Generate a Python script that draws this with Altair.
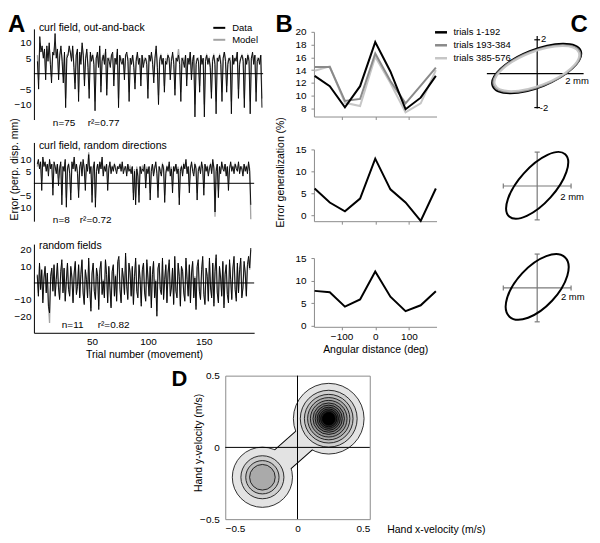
import altair as alt
import pandas as pd

FONT = "Liberation Sans"

# ---------------- Panel A : per-trial perpendicular error (mm) ----------------
a1_data = [
    4, -5, 12, 7, 9, 5, 8, -2, 9, 4, 10, 3,
    -3, 7, 6, 13, 5, 8, -2, 6, 9, 4, -3, 7,
    -11, 5, 6, 9, 7, 4, 9, 2, -5, 6, 8, -9,
    7, 3, 10, 6, -4, 5, 8, 2, -8, 7, 4, 6,
    3, -12, 5, 7, 2, 9, -6, 4, 6, 3, 8, -7,
    5, 4, 2, 6, 7, -4, 5, 3, 8, -11, 6, 4,
    3, 5, -2, 6, 7, 4, -9, 5, 3, 6, 2, -5,
    4, 7, 3, 5, -4, 6, 2, 4, 5, 3, -8, 6,
    4, 7, 3, -3, 5, 9, 2, -10, 4, 6, 3, 5,
    -6, 4, 3, 6, 5, -2, 4, 7, 3, -7, 5, 4,
    6, 3, -9, 5, 4, 2, 6, -4, 5, 3, 7, -2,
    4, 6, -14, 3, 5, 4, -6, 6, 3, 5, -14, 4,
    6, 3, 5, 2, -8, 4, 6, 3, -13, 5, 4, 6,
    3, -9, 5, 7, 4, -6, 3, 5, 4, -13, 6, 3,
    5, 4, 7, -8, 3, 5, 6, 4, -11, 5, 3, 6,
    4, -13, 5, 7, 3, 6, -9, 4, 5, 3, 6, -11]
a1_model = [
    6, -2, 10, 8, 8, 6, 7, 0, 8, 5, 9, 4,
    -1, 6, 7, 10, 6, 7, 0, 6, 8, 5, -1, 6,
    -8, 6, 6, 8, 7, 5, 8, 3, -3, 6, 7, -6,
    6, 4, 9, 6, -2, 5, 7, 3, -5, 6, 5, 6,
    4, -9, 5, 6, 3, 8, -4, 5, 6, 4, 7, -5,
    5, 5, 3, 6, 6, -2, 5, 4, 7, -8, 6, 5,
    4, 5, 0, 6, 6, 5, -6, 5, 4, 6, 3, -3,
    5, 6, 4, 5, -2, 6, 3, 5, 5, 4, -5, 6,
    5, 6, 4, -1, 5, 8, 3, -7, 5, 6, 4, 5,
    -4, 5, 4, 6, 5, 0, 5, 6, 4, -5, 5, 5,
    8, 4, -6, 5, 5, 3, 6, -2, 5, 4, 7, 0,
    5, 6, -10, 4, 5, 5, -4, 6, 4, 5, -10, 5,
    6, 4, 5, 3, -6, 5, 6, 4, -9, 5, 5, 6,
    4, -6, 5, 7, 5, -4, 4, 5, 5, -9, 6, 4,
    5, 5, 7, -5, 4, 5, 6, 5, -8, 5, 4, 6,
    5, -9, 5, 6, 4, 6, -6, 5, 5, 4, 6, -8]
a2_data = [
    8, 10, 6, 9, -3, 11, 7, 9, 5, 8, 3, 10,
    6, 8, -5, 9, 7, 4, 8, -1, 6, 9, -9, 7,
    5, 10, -10, 6, 8, 4, -7, 9, 6, 11, 5, 8,
    4, -6, 7, 9, 3, 10, 6, -3, 8, 5, 12, 4,
    7, -8, 6, 9, -10, 5, 8, 4, 9, 6, 11, 3,
    7, 5, 8, -3, 6, 9, 4, 7, 5, 8, 6, 4,
    7, 6, 8, 5, 9, 4, 6, 7, 3, 8, 5, 6,
    4, 7, -7, 5, -9, 6, 3, -8, 7, 4, 6, 5,
    8, -2, 6, 4, 7, -7, 5, 8, 3, 6, 9, 4,
    -6, 7, 5, 3, 8, 6, -8, 4, 7, 5, 9, 3,
    6, -4, 7, 5, 8, 4, 6, -9, 5, 7, 3, 8,
    6, 10, 4, 7, -4, 6, 9, 5, 3, 8, 6, -7,
    5, 7, 4, 9, 6, -5, 8, 5, 7, 3, 6, 8,
    4, 10, 6, -12, 5, 8, -6, 7, 4, 9, 6, 5,
    8, 3, 7, -3, 6, 9, 5, 7, 4, 8, 6, 5,
    9, 4, 7, 6, 3, 8, 5, 7, 4, 9, 5, -9]
a2_model = [
    7, 9, 7, 8, 1, 10, 8, 8, 6, 8, 5, 9,
    7, 8, -2, 8, 7, 5, 8, 2, 7, 8, -5, 7,
    6, 9, -6, 7, 8, 5, -4, 8, 7, 10, 6, 8,
    5, -3, 7, 8, 4, 9, 7, 0, 8, 6, 13, 5,
    7, -5, 7, 8, -6, 6, 8, 5, 8, 7, 10, 4,
    7, 6, 8, 0, 7, 8, 5, 7, 6, 8, 7, 5,
    7, 7, 8, 6, 8, 5, 7, 7, 4, 8, 6, 7,
    5, 7, -4, 6, -6, 7, 4, -5, 7, 5, 7, 6,
    8, 1, 7, 5, 7, -4, 6, 8, 4, 7, 8, 5,
    -3, 7, 6, 4, 8, 7, -5, 5, 7, 6, 8, 4,
    7, -1, 7, 6, 8, 5, 7, -6, 6, 7, 4, 8,
    7, 9, 5, 7, -1, 7, 8, 6, 4, 8, 7, -4,
    6, 7, 5, 8, 7, -2, 8, 6, 7, 4, 7, 8,
    5, 9, 7, -14, 6, 8, -3, 7, 5, 8, 7, 6,
    8, 4, 7, 0, 7, 8, 6, 7, 5, 8, 7, 6,
    8, 5, 7, 7, 4, 8, 6, 7, 5, 8, 6, -15]
a3_data = [
    5, -8, 12, -4, 8, -12, 3, 10, -6, 6, -14, -18,
    4, 9, -5, 11, -8, 2, 12, -3, -10, 7, 14, -6,
    9, -11, 1, 12, -4, -8, 10, 3, -12, 6, 13, -7,
    -2, 11, -9, 5, 14, -6, -13, 8, 2, -9, 15, -4,
    -17, 6, 12, -5, -10, 9, 4, -16, 8, 13, -7, 1,
    -9, 14, 5, -12, 10, -3, -15, 7, 11, -8, 4, -11,
    13, 16, -4, -12, 9, 3, -7, 18, -2, -10, 12, 6,
    -8, 10, -13, 4, 15, -5, -9, 11, 2, -14, 8, 12,
    -6, -11, 14, 3, -8, 10, -15, 5, 13, -9, 1, -20,
    9, 12, -4, -7, 15, -10, 2, 11, -12, 6, 14, -8,
    -3, 9, -13, 16, -5, -9, 12, 4, -14, 10, 7, -6,
    -11, 15, 2, -8, 11, -12, 6, 13, -9, 3, -16, 10,
    14, -5, -10, 8, 16, -7, -13, 9, 4, -11, 15, -3,
    -9, 12, -14, 7, 17, -6, -12, 10, 3, -8, 13, -15,
    5, 11, -7, -12, 14, 2, -10, 9, 16, -4, -11, 12,
    -6, 8, 15, -9, -3, 13, 6, -8, 11, 16, 9, 21]
a3_model = [
    4, -6, 10, -3, 7, -10, 4, 9, -5, 5, -13, -24,
    5, 8, -4, 10, -7, 3, 11, -2, -9, 6, 12, -5,
    8, -10, 2, 11, -3, -7, 9, 4, -11, 5, 12, -6,
    -1, 10, -8, 6, 13, -5, -12, 7, 3, -8, 13, -3,
    -15, 5, 11, -4, -9, 8, 5, -14, 7, 12, -6, 2,
    -8, 13, 6, -11, 9, -2, -14, 6, 10, -7, 5, -10,
    12, 14, -3, -11, 8, 4, -6, 16, -1, -9, 11, 7,
    -7, 9, -12, 5, 13, -4, -8, 10, 3, -12, 7, 11,
    -5, -10, 12, 4, -7, 9, -13, 6, 12, -8, 2, -17,
    8, 11, -3, -6, 13, -9, 3, 10, -11, 7, 12, -7,
    -2, 8, -12, 14, -4, -8, 11, 5, -13, 9, 8, -5,
    -10, 13, 3, -7, 10, -11, 7, 12, -8, 4, -14, 9,
    12, -4, -9, 7, 14, -6, -12, 8, 5, -10, 13, -2,
    -8, 11, -12, 8, 15, -5, -11, 9, 4, -7, 12, -13,
    6, 10, -6, -10, 12, 3, -9, 8, 14, -3, -9, 10,
    -5, 7, 13, -8, -2, 11, 7, -7, 10, 14, 8, 20]

a_titles = ["curl field, out-and-back", "curl field, random directions", "random fields"]
a_n = ["n=75", "n=8", "n=11"]
a_r2 = ["r\u00b2=0.77", "r\u00b2=0.72", "r\u00b2=0.82"]
a_series = ["Data", "Model"]
a1_yticks = [-10, -5, 5, 10]
a2_yticks = [-10, -5, 5, 10]
a3_yticks = [-20, -10, 10, 20]
a_xticks = [50, 100, 150]

# ---------------- Panel B : error generalization (%) ----------------
b_angles = [-180, -135, -90, -45, 0, 45, 90, 135, 180]
b_series = ["trials 1-192", "trials 193-384", "trials 385-576"]
b1_t1 = [13.1, 11.5, 8.2, 11.5, 18.4, 13.8, 7.9, 9.7, 13.1]
b1_t2 = [14.5, 14.5, 9.2, 9.5, 16.6, 12.3, 8.8, 11.6, 14.4]
b1_t3 = [13.9, 14.6, 8.9, 8.4, 16.1, 12.0, 7.4, 8.8, 14.0]
b2_vals = [6.1, 2.9, 0.9, 3.8, 12.9, 5.9, 2.9, -1.3, 6.1]
b3_vals = [7.7, 7.4, 4.2, 5.8, 12.0, 6.4, 3.2, 4.5, 7.6]
b1_yticks = [8, 10, 12, 14, 16, 18, 20]
b23_yticks = [0, 5, 10, 15]
b_xticks = [-100, 0, 100]

# ---------------- Panel C : ellipses (mm) ----------------
c1_major = [2.8, 2.72, 2.65]
c1_minor = [1.1, 1.05, 1.0]
c1_tilt = [22, 21, 21]
c1_cx = [-0.03, -0.02, -0.02]
c1_cy = [0.31, 0.3, 0.3]
c2_major, c2_minor, c2_tilt, c2_cx, c2_cy = [2.47], [1.06], [48], [0.0], [0.04]
c3_major, c3_minor, c3_tilt, c3_cx, c3_cy = [2.4], [1.2], [47], [0.0], [0.06]
c1_hbar = [-2.97, 2.74]
c1_vbar = [-2.06, 2.23]
c_bar = [-2.0, 2.0]

# ---------------- Panel D : velocity density contours (m/s) ----------------
d_cx = [0.216, -0.243]
d_cy = [0.2, -0.208]
d_big_r = [0.276, 0.222, 0.19, 0.165, 0.143, 0.123, 0.106, 0.09, 0.076, 0.063, 0.05]
d_small_r = [0.235, 0.168, 0.13, 0.10]
d_ticks = [-0.5, 0, 0.5]

# ---------------- styling constants ----------------
GRAYS = ["#e3e3e3", "#cfcfcf", "#bdbdbd", "#aaaaaa", "#979797", "#838383",
         "#6c6c6c", "#555555", "#3e3e3e", "#262626", "#000000"]
C_PX = 17.0
D_PX = 145.0
AXG = "#8c8c8c"


def txt(label, x, y, size=10.5, align="left", baseline="middle", angle=0, bold=False):
    return alt.Chart(pd.DataFrame({"t": [label]})).mark_text(
        align=align, baseline=baseline, fontSize=size, angle=angle,
        fontWeight="bold" if bold else "normal", color="black"
    ).encode(x=alt.value(x), y=alt.value(y), text="t:N")


def anchor(x, y):
    # invisible zero-length rule used only to pin the layout bounds
    return alt.Chart(pd.DataFrame({"v": [0]})).mark_rule(opacity=0, strokeWidth=0.01).encode(
        x=alt.value(x), y=alt.value(y), x2=alt.value(x), y2=alt.value(y))


def panel_a(data, model, xmax, xr, ydom, yticks, h, idx, title_y, stat_y, n_x, r_x,
            xaxis=None, legend=None, extra=()):
    df = pd.DataFrame({
        "trial": list(range(1, len(data) + 1)) + list(range(1, len(model) + 1)),
        "err": data + model,
        "series": ["Data"] * len(data) + ["Model"] * len(model)})
    xs = alt.Scale(domain=[-2, xmax], range=[0, xr], nice=False, zero=False)
    ys = alt.Scale(domain=ydom, nice=False, zero=False)
    X = alt.X("trial:Q", scale=xs, axis=xaxis)
    Y = alt.Y("err:Q", scale=ys, axis=alt.Axis(values=yticks, title=None, ticks=False,
                                                labelPadding=3, domainColor="black", grid=False))
    C = alt.Color("series:N", scale=alt.Scale(domain=a_series, range=["#000000", "#a3a3a3"]),
                  legend=legend)
    base = alt.Chart(df)
    lm = base.transform_filter(alt.datum.series == "Model").mark_line(strokeWidth=1.3).encode(
        x=X, y=Y, color=C)
    ld = base.transform_filter(alt.datum.series == "Data").mark_line(strokeWidth=0.9).encode(
        x=X, y=Y, color=C)
    zero = alt.Chart(pd.DataFrame({"trial": [-2], "trial2": [xmax], "err": [0]})).mark_rule(
        color="black", strokeWidth=1).encode(x=X, x2="trial2:Q", y=Y)
    layers = [lm, ld, zero,
              txt(a_titles[idx], 5, title_y),
              txt(a_n[idx], n_x, stat_y, size=10),
              txt(a_r2[idx], r_x, stat_y, size=10)] + list(extra)
    return alt.layer(*layers).properties(width=235, height=h)


def panel_b(series_vals, names, colors, ydom, yrange, yticks, h, xlabels, legend=None, extra=()):
    rows = []
    for nm, vals in zip(names, series_vals):
        for a, v in zip(b_angles, vals):
            rows.append({"angle": a, "err": v, "series": nm})
    df = pd.DataFrame(rows)
    X = alt.X("angle:Q", scale=alt.Scale(domain=[-182, 182], nice=False, zero=False),
              axis=alt.Axis(values=b_xticks, labels=xlabels, ticks=True, tickSize=3,
                            tickColor=AXG, domainColor=AXG, grid=False, labelPadding=2,
                            title="Angular distance (deg)" if xlabels else None, titlePadding=3))
    Y = alt.Y("err:Q", scale=alt.Scale(domain=ydom, range=yrange, nice=False, zero=False),
              axis=alt.Axis(values=yticks, title=None, tickSize=3, tickColor=AXG,
                            domainColor=AXG, labelPadding=5, grid=False))
    C = alt.Color("series:N", scale=alt.Scale(domain=names, range=colors), legend=legend)
    layers = []
    for nm in reversed(names):
        layers.append(alt.Chart(df).transform_filter(alt.datum.series == nm)
                      .mark_line(strokeWidth=2).encode(x=X, y=Y, color=C))
    return alt.layer(*(layers + list(extra))).properties(width=123, height=h)


def ell_path(k):
    c = 0.5523
    kc = k * c
    return (f"M 1 0 C 1 {kc:.4f} {c} {k:.4f} 0 {k:.4f} C {-c} {k:.4f} -1 {kc:.4f} -1 0 "
            f"C -1 {-kc:.4f} {-c} {-k:.4f} 0 {-k:.4f} C {c} {-k:.4f} 1 {-kc:.4f} 1 0 Z")


def panel_c(names, cx, cy, major, minor, tilt, colors, ydom, h, segs, seg_color, labels, extra=()):
    xs = alt.Scale(domain=[-55 / C_PX, 55 / C_PX], nice=False, zero=False)
    ys = alt.Scale(domain=ydom, nice=False, zero=False)
    X = alt.X("x:Q", scale=xs, axis=None)
    Y = alt.Y("y:Q", scale=ys, axis=None)
    sdf = pd.DataFrame(segs, columns=["x", "y", "x2", "y2"])
    rules = alt.Chart(sdf).mark_rule(color=seg_color, strokeWidth=1.2).encode(
        x=X, y=Y, x2="x2:Q", y2="y2:Q")
    edf = pd.DataFrame({"name": names, "x": cx, "y": cy, "a": major, "b": minor, "tilt": tilt})
    paths = [ell_path(b / a) for a, b in zip(major, minor)]
    ell = alt.Chart(edf).transform_calculate(
        sz=f"pow(2 * datum.a * {C_PX}, 2)", ang="360 - datum.tilt"
    ).mark_point(filled=False, opacity=1, strokeWidth=2).encode(
        x=X, y=Y,
        shape=alt.Shape("name:N", scale=alt.Scale(domain=names, range=paths), legend=None),
        size=alt.Size("sz:Q", scale=None),
        angle=alt.Angle("ang:Q", scale=None),
        stroke=alt.Stroke("name:N", scale=alt.Scale(domain=names, range=colors), legend=None))
    layers = [rules, ell]
    for lab, lx, ly, al in labels:
        layers.append(alt.Chart(pd.DataFrame({"x": [lx], "y": [ly], "t": [lab]})).mark_text(
            align=al, baseline="middle", fontSize=9.5, color="black").encode(x=X, y=Y, text="t:N"))
    return alt.layer(*(layers + list(extra))).properties(width=110, height=h)


# ---------------- build panels ----------------
A1 = panel_a(a1_data, a1_model, 193, 230, [-46 / 3.1, 45 / 3.1], a1_yticks, 91, 0, -1, 94, 19, 54,
             legend=alt.Legend(orient="none", legendX=179, legendY=-8, title=None,
                               symbolType="stroke", symbolSize=144, symbolStrokeWidth=2,
                               labelOffset=6, rowPadding=0, padding=0),
             extra=[txt("A", -26, -16, size=24, baseline="top", bold=True), anchor(0, -20)])
A2 = panel_a(a2_data, a2_model, 195, 221, [-38 / 2.4, 41 / 2.4], a2_yticks, 79, 1, 4, 78, 19, 46,
             extra=[txt("Error (perp. disp. mm)", -19, 27, angle=270, align="center")])
A3 = panel_a(a3_data, a3_model, 195, 221, [-50 / 1.67, 39 / 1.67], a3_yticks, 89, 2, 2, 81, 28, 64,
             xaxis=alt.Axis(values=a_xticks, title="Trial number (movement)", ticks=False,
                            labelPadding=4, titlePadding=3, domainColor="black", grid=False),
             extra=[anchor(0, 118)])

B_COLORS = ["#000000", "#8a8a8a", "#c6c6c6"]
B1 = panel_b([b1_t1, b1_t2, b1_t3], b_series, B_COLORS, [6.75, 20], [88, 3], b1_yticks, 88, False,
             legend=alt.Legend(orient="none", legendX=120, legendY=-4, title=None,
                               symbolType="stroke", symbolSize=144, symbolStrokeWidth=2.5,
                               labelOffset=5, rowPadding=0, padding=0),
             extra=[txt("B", -30, -16, size=24, align="center", baseline="top", bold=True)])
B2 = panel_b([b2_vals], ["all"], ["#000000"], [-1.36, 15], [79, 7], b23_yticks, 79, False,
             extra=[txt("Error generalization (%)", -33, 30, angle=270, align="center")])
B3 = panel_b([b3_vals], ["all"], ["#000000"], [-0.29, 15], [83, 14], b23_yticks, 83, True)

C1 = panel_c(b_series, c1_cx, c1_cy, c1_major, c1_minor, c1_tilt, B_COLORS,
             [-46 / C_PX, 45 / C_PX], 91,
             [[c1_hbar[0], 0, c1_hbar[1], 0], [0, c1_vbar[0], 0, c1_vbar[1]],
              [-0.17, 2, 0.17, 2], [-0.17, -2, 0.17, -2]], "black",
             [("2", 0.23, 2.06, "left"), ("-2", 0.15, -2.0, "left"), ("2 mm", 2.35, -0.42, "center")],
             extra=[txt("C", 97, -16, size=24, align="center", baseline="top", bold=True)])


def cross(b):
    t = 0.15
    return [[b[0], 0, b[1], 0], [0, b[0], 0, b[1]],
            [b[0], -t, b[0], t], [b[1], -t, b[1], t],
            [-t, b[0], t, b[0]], [-t, b[1], t, b[1]]]


C2 = panel_c(["e"], c2_cx, c2_cy, c2_major, c2_minor, c2_tilt, ["#000000"],
             [-35.3 / C_PX, 43.7 / C_PX], 79, cross(c_bar), "#7a7a7a",
             [("2 mm", 2.06, -0.65, "center")])
C3 = panel_c(["e"], c3_cx, c3_cy, c3_major, c3_minor, c3_tilt, ["#000000"],
             [-45 / C_PX, 44 / C_PX], 89, cross(c_bar), "#7a7a7a",
             [("2 mm", 2.1, -0.51, "center")])

# ---- D ----
rows = []
for bi, (cx, cy, radii) in enumerate(zip(d_cx, d_cy, [d_big_r, d_small_r])):
    for li, r in enumerate(radii):
        rows.append({"blob": bi, "x": cx, "y": cy, "level": li + 1, "r": r})
ddf = pd.DataFrame(rows).sort_values(["level", "blob"]).reset_index(drop=True)
cdf = pd.DataFrame({"x": d_cx, "y": d_cy})

DX = alt.X("x:Q", scale=alt.Scale(domain=[-0.5, 0.5], nice=False, zero=False),
           axis=alt.Axis(values=d_ticks, format="~g", ticks=False, tickSize=0, domain=False,
                         labelPadding=4, grid=False, title="Hand x-velocity (m/s)",
                         titleX=162, titleY=10, titleAlign="left", titleBaseline="middle",
                         titleAngle=0))
DY = alt.Y("y:Q", scale=alt.Scale(domain=[-0.5, 0.5], nice=False, zero=False),
           axis=alt.Axis(values=d_ticks, format="~g", ticks=False, tickSize=0, domain=False,
                         labelPadding=6, grid=False, title="Hand y-velocity (m/s)",
                         titleX=-27, titleY=67, titleAngle=270, titleAlign="center",
                         titleBaseline="middle"))
FILL = alt.Fill("level:O", scale=alt.Scale(domain=list(range(1, 12)), range=GRAYS), legend=None)

circ = alt.Chart(ddf).transform_calculate(sz=f"PI * pow(datum.r * {D_PX}, 2)")
lvl1 = circ.transform_filter(alt.datum.level == 1).mark_point(
    shape="circle", filled=True, opacity=1, stroke="black", strokeWidth=0.8, clip=True).encode(
    x=DX, y=DY, fill=FILL, size=alt.Size("sz:Q", scale=None))
lvln = circ.transform_filter(alt.datum.level > 1).mark_point(
    shape="circle", filled=True, opacity=1, stroke="black", strokeWidth=0.8, clip=True).encode(
    x=DX, y=DY, fill=FILL, size=alt.Size("sz:Q", scale=None))
bridge_o = alt.Chart(cdf).mark_line(color="black", strokeWidth=26, strokeCap="butt", clip=True).encode(
    x=DX, y=DY)
bridge_f = alt.Chart(cdf).mark_line(color=GRAYS[0], strokeWidth=24, strokeCap="butt", clip=True).encode(
    x=DX, y=DY)
zdf = pd.DataFrame({"x": [0.0], "y": [0.0]})
zv = alt.Chart(zdf).mark_rule(color="black", strokeWidth=1).encode(x=DX)
zh = alt.Chart(zdf).mark_rule(color="black", strokeWidth=1).encode(y=DY)
D = alt.layer(bridge_o, lvl1, bridge_f, lvln, zv, zh,
              txt("D", -46, 3, size=22, align="center", bold=True),
              anchor(-60, -13)).properties(
    width=145, height=144, view=alt.ViewBackground(stroke="#8c8c8c", strokeWidth=1))

spacer = alt.layer(anchor(0, 0), anchor(131, 0)).properties(width=131, height=10)
d_row = alt.hconcat(spacer, D, spacing=0)

RES = dict(color="independent", stroke="independent", shape="independent", fill="independent",
           x="independent", y="independent")

grid = alt.ConcatChart(
    concat=[A1, B1, C1, A2, B2, C2, A3, B3, C3],
    columns=3,
    spacing={"row": 23, "column": 46},
    bounds="flush",
    align="each",
).resolve_scale(**RES)

chart = alt.vconcat(grid, d_row.resolve_scale(**RES), spacing=0).resolve_scale(**RES).properties(
    padding=0).configure_view(stroke=None).configure_axis(
    labelFont=FONT, titleFont=FONT, labelFontSize=10, titleFontSize=10.5,
    titleFontWeight="normal", labelColor="black", titleColor="black", grid=False
).configure_legend(labelFont=FONT, labelFontSize=9.5, labelColor="black").configure_text(font=FONT)

chart.save("out.html", embed_options={"renderer": "svg", "actions": False})
